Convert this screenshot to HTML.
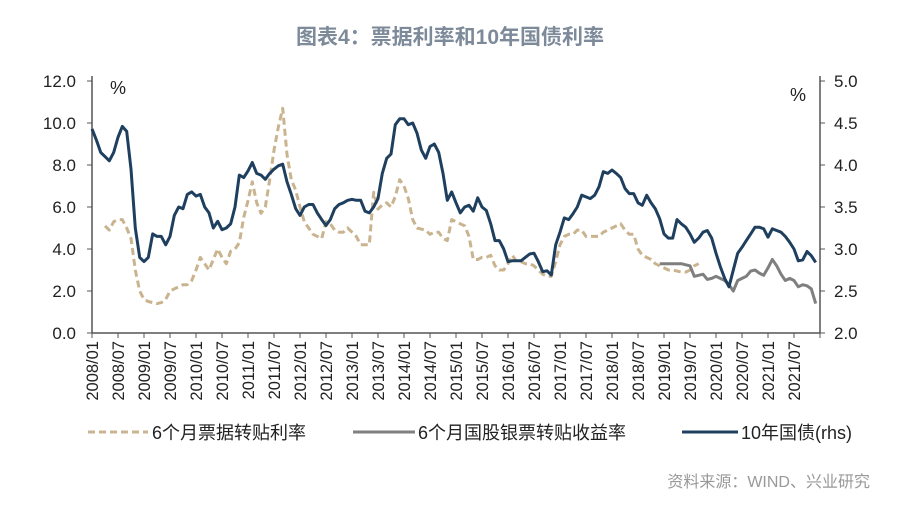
<!DOCTYPE html>
<html><head><meta charset="utf-8">
<style>
body{margin:0;background:#fff;width:900px;height:510px;overflow:hidden;font-family:"Liberation Sans","Noto Sans CJK SC",sans-serif;}
svg text{font-family:"Liberation Sans","Noto Sans CJK SC",sans-serif;}
</style></head>
<body>
<svg id="chart" width="900" height="510" xmlns="http://www.w3.org/2000/svg">
<text x="450" y="44" text-anchor="middle" font-size="21" font-weight="bold" fill="#7d8a9a">图表4：票据利率和10年国债利率</text>
<g id="axes"></g>
<g id="series"></g>
<g>
<g>
<line x1="88" y1="432" x2="148" y2="432" stroke="#c9b48f" stroke-width="3" stroke-dasharray="7,4"/>
<text x="152" y="439" font-size="18" fill="#222">6个月票据转贴利率</text></g>
<g>
<line x1="353" y1="432" x2="415" y2="432" stroke="#7f7f7f" stroke-width="3"/>
<text x="418" y="439" font-size="18" fill="#222">6个月国股银票转贴收益率</text></g>
<g>
<line x1="682" y1="432" x2="738" y2="432" stroke="#1f3f5f" stroke-width="3"/>
<text x="741" y="439" font-size="18" fill="#222">10年国债(rhs)</text></g>
</g>
<text x="870" y="487" text-anchor="end" font-size="16" fill="#999">资料来源：WIND、兴业研究</text>
</svg>
<script>
const leftTicks=[0,2,4,6,8,10,12];
const rightTicks=[2.0,2.5,3.0,3.5,4.0,4.5,5.0];
const xLabels=["2008/01","2008/07","2009/01","2009/07","2010/01","2010/07","2011/01","2011/07","2012/01","2012/07","2013/01","2013/07","2014/01","2014/07","2015/01","2015/07","2016/01","2016/07","2017/01","2017/07","2018/01","2018/07","2019/01","2019/07","2020/01","2020/07","2021/01","2021/07"];
const bondStart=0;
const bond10y=[4.43,4.30,4.15,4.10,4.05,4.15,4.33,4.46,4.40,3.95,3.25,2.90,
2.85,2.90,3.18,3.15,3.15,3.05,3.15,3.40,3.50,3.48,3.65,3.68,
3.63,3.65,3.50,3.43,3.25,3.33,3.23,3.25,3.30,3.50,3.88,3.85,
3.93,4.03,3.90,3.88,3.83,3.90,3.95,3.99,4.01,3.80,3.65,3.48,
3.40,3.50,3.53,3.53,3.43,3.35,3.28,3.35,3.48,3.53,3.55,3.58,
3.59,3.58,3.58,3.45,3.43,3.50,3.60,3.90,4.08,4.13,4.48,4.55,
4.55,4.48,4.50,4.38,4.18,4.08,4.22,4.25,4.15,3.90,3.58,3.68,
3.55,3.43,3.50,3.52,3.45,3.61,3.50,3.46,3.30,3.10,3.10,3.00,
2.85,2.86,2.86,2.86,2.90,2.94,2.95,2.85,2.73,2.74,2.69,3.05,
3.20,3.37,3.35,3.42,3.50,3.64,3.62,3.60,3.64,3.74,3.92,3.90,
3.94,3.90,3.85,3.72,3.66,3.66,3.55,3.52,3.64,3.55,3.48,3.36,
3.18,3.13,3.13,3.35,3.30,3.26,3.18,3.08,3.13,3.20,3.22,3.13,
2.95,2.79,2.65,2.55,2.75,2.95,3.02,3.10,3.18,3.26,3.26,3.24,
3.14,3.24,3.22,3.20,3.15,3.08,3.00,2.86,2.87,2.97,2.92,2.84];
const billStart=3;
const billRate=[5.1,4.9,5.3,5.4,5.4,5.0,4.5,3.0,2.0,
1.6,1.5,1.45,1.4,1.45,1.6,2.0,2.1,2.2,2.3,2.3,2.5,
3.0,3.6,3.3,3.0,3.5,4.0,3.6,3.3,3.9,4.0,4.3,5.5,
6.3,7.2,6.2,5.7,6.0,7.3,8.7,9.8,10.7,8.5,7.3,6.8,
6.0,5.3,5.0,4.7,4.6,4.5,5.3,5.2,4.9,4.8,4.8,5.0,
4.8,4.6,4.2,4.2,4.2,6.7,5.9,6.1,6.2,6.0,6.5,7.3,
7.0,6.4,5.4,5.0,4.95,4.9,4.7,4.8,4.8,4.5,4.4,5.4,
5.3,5.2,5.1,4.6,3.5,3.5,3.6,3.6,3.7,3.2,3.0,3.0,
3.3,3.7,3.4,3.4,3.3,3.3,3.2,3.0,2.8,2.7,2.7,3.4,
4.2,4.6,4.7,4.7,4.9,4.9,4.6,4.6,4.6,4.6,4.8,4.9,
5.0,5.1,5.2,4.9,4.7,4.7,4.0,3.7,3.6,3.5,3.3,3.2,
3.1,3.0,3.0,2.95,2.9,2.9,3.0,3.2,3.3];
const bankStart=131;
const bankBill=[3.3,3.3,3.3,3.3,3.3,3.3,3.25,3.2,2.7,2.75,2.8,2.55,2.6,
2.7,2.6,2.5,2.3,2.0,2.5,2.6,2.7,2.95,3.0,2.85,2.75,
3.1,3.5,3.2,2.8,2.5,2.6,2.5,2.2,2.3,2.25,2.1,1.4];

const NS="http://www.w3.org/2000/svg";
const X0=92,X1=820,Y0=333,Y1=81,NM=168;
const xs=m=>X0+(X1-X0)*m/NM;
const yl=v=>Y0-(Y0-Y1)*v/12;
const yr=v=>Y0-(Y0-Y1)*(v-2)/3;
function mk(tag,attrs,parent){const e=document.createElementNS(NS,tag);for(const k in attrs)e.setAttribute(k,attrs[k]);parent.appendChild(e);return e;}
const axes=document.getElementById('axes');
const ser=document.getElementById('series');
const la=mk('line',{x1:X0,y1:Y1-5,x2:X0,y2:Y0,stroke:'#555','stroke-width':1.5},axes);


const ra=mk('line',{x1:X1,y1:Y1-5,x2:X1,y2:Y0,stroke:'#555','stroke-width':1.5},axes);


const xa=mk('line',{x1:X0,y1:Y0,x2:X1,y2:Y0,stroke:'#555','stroke-width':1.5},axes);


leftTicks.forEach(v=>{
 mk('line',{x1:X0-5,y1:yl(v),x2:X0,y2:yl(v),stroke:'#555'},axes);
 const t=mk('text',{x:X0-16,y:yl(v)+6,'text-anchor':'end','font-size':17,fill:'#222'},axes);
 t.textContent=v.toFixed(1);
 
 
});
rightTicks.forEach(v=>{
 mk('line',{x1:X1,y1:yr(v),x2:X1+5,y2:yr(v),stroke:'#555'},axes);
 const t=mk('text',{x:X1+14,y:yr(v)+6,'text-anchor':'start','font-size':17,fill:'#222'},axes);
 t.textContent=v.toFixed(1);
 
 
});
for(let k=0;k<=xLabels.length;k++){
 const x=xs(k*6);
 mk('line',{x1:x,y1:Y0,x2:x,y2:Y0+5,stroke:'#555'},axes);
 if(k<xLabels.length){
  const t=mk('text',{x:0,y:0,'text-anchor':'end','font-size':16.5,fill:'#222',transform:`translate(${x+6},${Y0+8}) rotate(-90)`},axes);
  t.textContent=xLabels[k];
  
  
 }
}
const p1=mk('text',{x:110,y:94,'font-size':18,fill:'#222'},axes);p1.textContent='%';


const p2=mk('text',{x:790,y:101,'font-size':18,fill:'#222'},axes);p2.textContent='%';


function line(arr,start,yf,attrs,name){
 const d=arr.map((v,i)=>(i?'L':'M')+xs(start+i).toFixed(1)+','+yf(v).toFixed(1)).join('');
 const p=mk('path',Object.assign({d:d,fill:'none','stroke-linejoin':'round'},attrs),ser);
 
 
}
line(billRate,billStart,yl,{stroke:'#c9b48f','stroke-width':3,'stroke-dasharray':'7,4'},'bill-rate-line');
line(bankBill,bankStart,yl,{stroke:'#7f7f7f','stroke-width':3},'bank-bill-yield-line');
line(bond10y,bondStart,yr,{stroke:'#1f3f5f','stroke-width':3},'bond-10y-line');
</script>
</body></html>
